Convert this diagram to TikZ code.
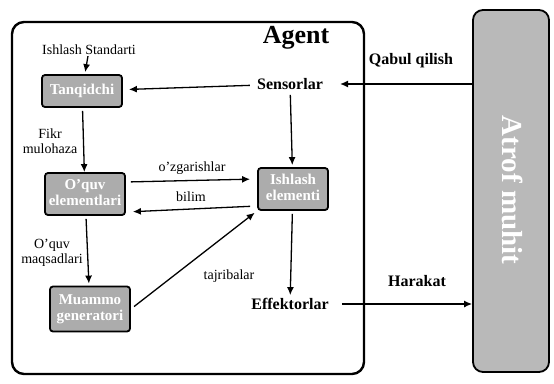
\documentclass[tikz,border=0pt]{standalone}
\usepackage{fontspec}
\setmainfont{Liberation Serif}
\usetikzlibrary{arrows.meta}
\begin{document}
\begin{tikzpicture}[x=1pt,y=-1pt]
        \tikzstyle{every node}=[inner sep=1pt, text=black]
        \tikzstyle{note}=[font=\fontsize{14}{15}\selectfont]
        \tikzstyle{title}=[font=\fontsize{16}{18}\selectfont\bfseries]
        \tikzstyle{element}=[rectangle, rounded corners=3pt, fill=gray!65, draw=black, line width=1.8pt, text=white, font=\fontsize{15}{16}\selectfont\bfseries, minimum width=80pt, inner sep=0pt]
        \tikzstyle{edge}=[black, line width=1.3pt, -{Latex[length=8pt,width=7pt]}]

        \useasboundingbox (0,0) rectangle (554,383);

        \draw[line width=2.4pt, rounded corners=12pt] (12,22) rectangle (364,374);
        \node[rectangle, rounded corners=10pt, fill=gray!55, draw=black, line width=1.8pt, minimum width=76pt, minimum height=362pt] (atrof) at (511,191) {};
        \node[rotate=-90, text=white, font=\fontsize{29}{30}\selectfont\bfseries] (atroftxt) at (513,190) {Atrof muhit};

        \node[title, font=\fontsize{26}{28}\selectfont\bfseries] (agent) at (296,38) {Agent};
        \node[note] (std) at (89,50) {Ishlash Standarti};
        \node[element, minimum height=32pt] (tanq) at (82,91) {Tanqidchi};
        \node[element, minimum height=42pt] (oquv) at (85,194) {\begin{tabular}{@{\,}c@{\,}} O'quv \\ elementlari \end{tabular}};
        \node[element, minimum width=70pt, minimum height=42pt] (ishl) at (293,189) {\begin{tabular}{@{\,}c@{\,}} Ishlash \\ elementi \end{tabular}};
        \node[element, minimum height=45pt] (muam) at (90,309) {\begin{tabular}{@{\,}c@{\,}} Muammo \\ generatori \end{tabular}};

        \node[title] (sens) at (290,84) {Sensorlar};
        \node[title] (effk) at (290,304) {Effektorlar};
        \node[title] (qabul) at (411,61) {Qabul qilish};
        \node[title] (harakat) at (417,281) {Harakat};

        \node[note] (fikr) at (50,143) {\begin{tabular}{c} Fikr \\ mulohaza \end{tabular}};
        \node[note] (ozg) at (192,168) {o'zgarishlar};
        \node[note] (bilim) at (191,197) {bilim};
        \node[note] (maqsad) at (52,253) {\begin{tabular}{c} O'quv \\ maqsadlari \end{tabular}};
        \node[note] (tajriba) at (229,276) {tajribalar};

        \draw[edge, shorten >=2pt] (std) -- (tanq);
        \draw[edge, shorten <=6pt, shorten >=6pt] (sens) -- (tanq);
        \draw[edge, shorten <=4pt, shorten >=2pt] (sens) -- (ishl);
        \draw[edge, shorten <=3pt] (tanq) -- (oquv);
        \draw[edge, shorten <=5pt, shorten >=7pt] ([yshift=12pt]oquv.east) -- ([yshift=10pt]ishl.west);
        \draw[edge, shorten <=7pt, shorten >=7pt] ([yshift=-17pt]ishl.west) -- ([yshift=-18pt]oquv.east);
        \draw[edge, shorten <=3pt, shorten >=2pt] (oquv) -- (muam);
        \draw[edge, shorten <=4pt, shorten >=3pt] (muam.east) -- (ishl.south west);
        \draw[edge, shorten <=3pt, shorten >=2pt] (ishl) -- (effk);

        \draw[edge] (atrof.west |- sens) -- ([xshift=16pt]sens.east);
        \draw[edge] ([xshift=12pt]effk.east) -- (atrof.west |- effk);
    \end{tikzpicture}
\end{document}
